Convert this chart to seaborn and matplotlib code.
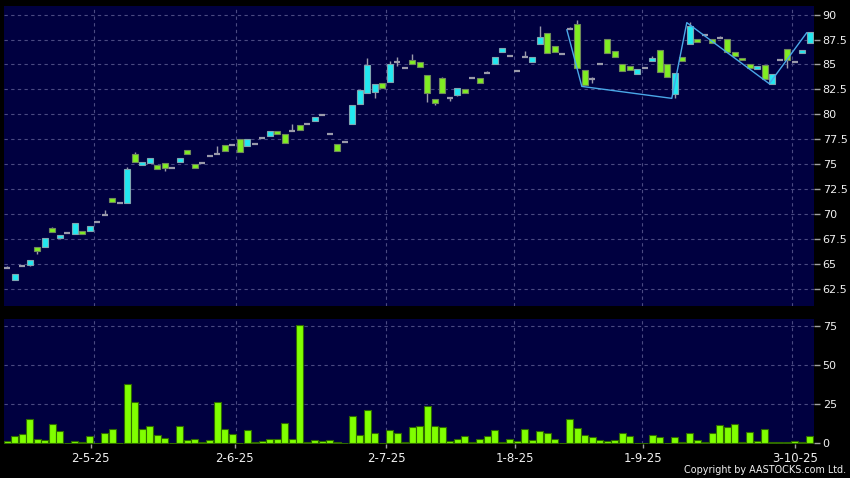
import numpy as np
import pandas as pd
import matplotlib
matplotlib.use("Agg")
import matplotlib.pyplot as plt
import seaborn as sns

# ---------------- data ----------------
opens = [64.6, 63.4, 64.8, 64.9, 66.7, 66.7, 68.6, 67.6, 68.1, 68.0,
         68.3, 68.3, 69.2, 69.9, 71.6, 71.1, 71.1, 76.0, 74.9, 75.1,
         74.9, 75.1, 74.6, 75.2, 76.4, 75.0, 75.1, 75.8, 76.0, 76.9,
         76.9, 77.5, 76.8, 77.0, 77.6, 77.8, 78.3, 78.0, 78.35, 78.9,
         79.0, 79.3, 79.9, 78.0, 77.0, 77.2, 79.0, 81.0, 82.1, 82.2,
         83.1, 83.2, 85.2, 84.6, 85.5, 85.25, 83.9, 81.55, 83.6, 81.6,
         81.9, 82.5, 83.65, 83.65, 84.15, 85.05, 86.25, 85.9, 84.3, 85.75,
         85.25, 87.05, 88.2, 86.85, 86.1, 88.55, 89.05, 84.45, 83.5, 85.0,
         87.55, 86.4, 85.05, 84.8, 84.05, 84.6, 85.3, 86.45, 85.0, 82.05,
         85.8, 87.1, 87.6, 88.0, 87.6, 87.65, 87.55, 86.25, 85.7, 85.05,
         84.55, 84.9, 83.05, 85.45, 86.6, 85.2, 86.15, 87.15]
closes = [64.6, 64.0, 64.8, 65.4, 66.3, 67.6, 68.2, 67.9, 68.1, 69.1,
          67.95, 68.8, 69.2, 69.9, 71.2, 71.1, 74.5, 75.2, 75.2, 75.6,
          74.5, 74.6, 74.6, 75.6, 76.0, 74.6, 75.1, 75.8, 76.0, 76.3,
          76.9, 76.2, 77.5, 77.0, 77.6, 78.3, 78.0, 77.1, 78.35, 78.4,
          79.0, 79.7, 79.9, 78.0, 76.3, 77.2, 80.9, 82.4, 84.9, 83.0,
          82.6, 85.0, 85.2, 84.6, 85.05, 84.75, 82.1, 81.1, 82.1, 81.6,
          82.6, 82.1, 83.65, 83.15, 84.15, 85.75, 86.65, 85.9, 84.3, 85.75,
          85.8, 87.75, 86.15, 86.25, 86.1, 88.55, 84.65, 82.9, 83.5, 85.0,
          86.2, 85.75, 84.35, 84.45, 84.55, 84.6, 85.65, 84.2, 83.75, 84.15,
          85.3, 88.9, 87.3, 88.0, 87.2, 87.65, 86.25, 85.9, 85.4, 84.6,
          84.8, 83.55, 84.0, 85.45, 85.4, 85.2, 86.45, 88.25]
highs = [64.75, 64.0, 64.8, 65.4, 66.7, 67.6, 68.7, 67.9, 68.1, 69.1,
         68.3, 68.8, 69.2, 70.4, 71.6, 71.1, 74.7, 76.2, 75.2, 75.6,
         74.9, 75.1, 74.6, 75.6, 76.4, 75.0, 75.1, 75.8, 76.8, 76.9,
         76.9, 77.5, 77.5, 77.0, 77.6, 78.3, 78.3, 78.0, 79.05, 78.9,
         79.0, 79.7, 79.9, 78.0, 77.0, 77.2, 80.9, 82.4, 85.65, 83.0,
         83.1, 85.3, 85.75, 84.6, 86.1, 85.25, 83.9, 81.55, 83.75, 81.6,
         82.6, 82.5, 83.65, 83.65, 84.35, 85.75, 86.65, 85.9, 84.3, 86.4,
         85.8, 88.9, 88.2, 86.85, 86.1, 88.8, 89.5, 84.45, 83.7, 85.0,
         87.55, 86.4, 85.05, 84.8, 84.55, 84.6, 85.9, 86.45, 85.0, 84.15,
         85.8, 89.25, 87.6, 88.0, 87.6, 87.9, 87.55, 86.25, 85.7, 85.05,
         84.8, 84.9, 84.0, 85.45, 86.6, 85.2, 86.45, 88.25]
lows = [64.6, 63.4, 64.8, 64.8, 66.0, 66.7, 68.2, 67.6, 68.1, 68.0,
        67.95, 68.3, 69.2, 69.9, 71.2, 71.1, 71.1, 75.2, 74.9, 75.1,
        74.5, 74.3, 74.6, 75.2, 76.0, 74.6, 75.1, 75.8, 76.0, 76.3,
        76.9, 76.2, 76.8, 77.0, 77.6, 77.8, 78.0, 77.1, 78.35, 78.4,
        79.0, 79.3, 79.9, 78.0, 76.3, 77.2, 79.0, 81.0, 82.1, 81.6,
        82.6, 83.2, 84.8, 84.6, 85.05, 84.75, 81.2, 80.9, 82.1, 81.3,
        81.8, 82.1, 83.65, 83.15, 84.15, 85.05, 86.25, 85.9, 84.3, 85.75,
        85.25, 87.05, 86.15, 86.25, 86.1, 88.55, 84.65, 82.9, 83.1, 85.0,
        86.2, 85.75, 84.35, 84.45, 84.05, 84.6, 85.3, 84.2, 83.75, 81.65,
        85.3, 87.1, 87.3, 88.0, 87.2, 87.65, 86.25, 85.9, 85.4, 84.6,
        84.55, 83.55, 83.05, 85.45, 84.65, 85.2, 86.15, 87.15]
volumes = [1.5, 4.9, 6.0, 15.4, 2.4, 1.9, 12.4, 7.9, 0.4, 1.5,
           0.9, 4.9, 0.4, 6.4, 9.4, 0.4, 37.8, 26.7, 9.4, 11.3,
           5.3, 3.4, 0.4, 11.3, 1.9, 2.8, 0.9, 1.9, 26.3, 9.4,
           5.8, 0.4, 8.3, 0.9, 1.5, 2.8, 2.4, 13.2, 2.4, 75.6,
           0.9, 1.9, 1.5, 1.9, 0.9, 0.4, 17.3, 5.3, 21.4, 6.4,
           0.4, 8.3, 6.4, 0.9, 10.5, 11.3, 23.9, 10.9, 10.5, 1.5,
           2.8, 4.5, 0.9, 2.8, 4.5, 8.3, 0.9, 2.4, 1.5, 9.4,
           1.9, 7.9, 6.8, 2.8, 0.4, 15.8, 9.8, 5.3, 3.8, 1.9,
           1.5, 1.9, 6.4, 4.9, 0.4, 0.4, 5.3, 3.8, 0.4, 3.8,
           0.9, 6.4, 1.9, 0.9, 6.4, 11.8, 10.5, 12.4, 0.9, 7.3,
           1.5, 9.4, 0.9, 0.9, 0.9, 1.5, 0.9, 4.5]

# zigzag overlay (trading-day index, price)
zigzag_idx = [75, 77, 89, 91, 102, 107]
zigzag_val = [88.5, 82.8, 81.6, 89.2, 83.07, 88.2]

date_labels = ["2-5-25", "2-6-25", "2-7-25", "1-8-25", "1-9-25", "3-10-25"]
date_label_idx = [11.1, 30.3, 50.5, 67.7, 84.8, 105.0]
date_grid_idx = [11.6, 30.5, 50.5, 67.6, 84.6, 104.6]

price_ticks = [62.5, 65, 67.5, 70, 72.5, 75, 77.5, 80, 82.5, 85, 87.5, 90]
volume_ticks = [0, 25, 50, 75]

# ---------------- style ----------------
sns.set_theme(style="dark")
plt.rcParams['font.family'] = ['DejaVu Sans']

BG = '#000040'
GRID = '#4a4a82'
UP = '#22e8f0'
UP_EDGE = '#7fa6b0'
DN = '#80ee22'
DN_EDGE = '#6f8a5a'
DOJI = '#9a9aaa'
WICK = '#9a9aaa'
VOL = '#80ff00'
VOL_EDGE = '#2f6a00'
TXT = '#f0f0f0'

W, H = 850, 478
fig = plt.figure(figsize=(W / 100, H / 100), dpi=100, facecolor='black')
ax = fig.add_axes([4 / W, 1 - 305.7 / H, 810.3 / W, 299.7 / H])
axv = fig.add_axes([4 / W, 1 - 443.7 / H, 810.3 / W, 124.7 / H])

for a in (ax, axv):
    a.set_facecolor(BG)
    for s in a.spines.values():
        s.set_visible(False)
    a.grid(False)

o = np.array(opens); c = np.array(closes); h = np.array(highs); l = np.array(lows)
idx = np.arange(len(o))
up = c > o
dn = c < o
dj = c == o

# grid
for g in price_ticks:
    ax.axhline(g, color=GRID, lw=0.8, ls=(0, (3, 3)), zorder=0)
for g in date_grid_idx:
    ax.axvline(g, color=GRID, lw=0.8, ls=(0, (3, 3)), zorder=0)
    axv.axvline(g, color=GRID, lw=0.8, ls=(0, (3, 3)), zorder=0)
for g in volume_ticks[1:]:
    axv.axhline(g, color=GRID, lw=0.8, ls=(0, (3, 3)), zorder=0)

# candles
ax.vlines(idx, l, h, color=WICK, lw=1.0, zorder=2)
ax.bar(idx[up], (c - o)[up], bottom=o[up], width=0.82, color=UP,
       edgecolor=UP_EDGE, linewidth=0.8, zorder=3)
ax.bar(idx[dn], (o - c)[dn], bottom=c[dn], width=0.82, color=DN,
       edgecolor=DN_EDGE, linewidth=0.8, zorder=3)
ax.hlines(c[dj], idx[dj] - 0.42, idx[dj] + 0.42, color=DOJI, lw=1.6, zorder=3)

# zigzag
zz = pd.DataFrame({'x': np.array(zigzag_idx) - 0.4, 'y': zigzag_val})
sns.lineplot(data=zz, x='x', y='y', sort=False, color='#4aa8e8', lw=1.0,
             ax=ax, zorder=4, estimator=None)

# volume
vdf = pd.DataFrame({'idx': idx, 'vol': volumes})
sns.barplot(data=vdf, x='idx', y='vol', native_scale=True, color=VOL,
            saturation=1, edgecolor=VOL_EDGE, linewidth=0.8, width=0.9,
            ax=axv, zorder=3)

# limits
xl = (-0.44, 107.6)
ax.set_xlim(*xl)
axv.set_xlim(*xl)
ax.set_ylim(60.79, 90.87)
axv.set_ylim(-0.3, 79.7)

# ticks
ax.set_xticks([])
ax.yaxis.tick_right()
ax.set_yticks(price_ticks)
ax.set_yticklabels([f"{t:g}" for t in price_ticks])
ax.tick_params(axis='y', which='both', right=True, left=False, length=4,
               width=1, color='#a0a0a0', pad=2, labelsize=8, labelcolor=TXT)

axv.yaxis.tick_right()
axv.set_yticks(volume_ticks)
axv.set_yticklabels([str(t) for t in volume_ticks])
axv.tick_params(axis='y', which='both', right=True, left=False, length=4,
                width=1, color='#a0a0a0', pad=2, labelsize=8, labelcolor=TXT)
axv.set_xticks(date_label_idx)
axv.set_xticklabels(date_labels)
axv.tick_params(axis='x', bottom=True, length=3, width=1, color='#a0a0a0',
                pad=3, labelsize=8.5, labelcolor=TXT)
axv.set_xlabel('')
axv.set_ylabel('')
ax.set_xlabel('')
ax.set_ylabel('')

fig.text(846 / W, 1 - 470 / H, "Copyright by AASTOCKS.com Ltd.", ha='right',
         va='center', fontsize=6.9, color=TXT)

fig.savefig('out.png', dpi=100, facecolor='black')
